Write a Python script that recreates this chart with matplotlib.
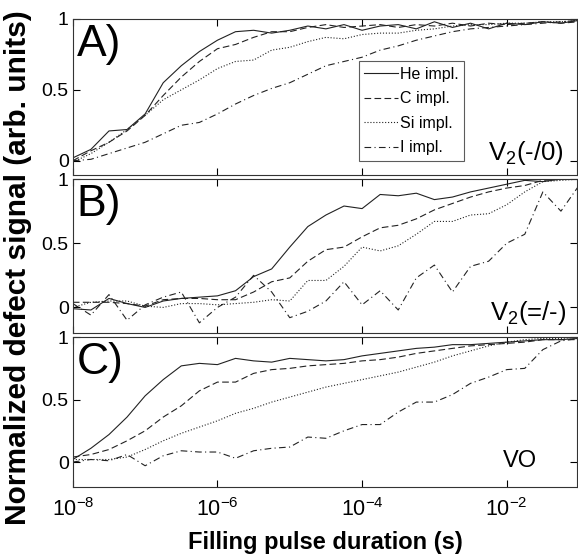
import matplotlib
matplotlib.use("Agg")
import matplotlib.pyplot as plt
from matplotlib import font_manager

# ------------------------------------------------------------------ #
#  data (x = log10 of pulse duration)         #
# ------------------------------------------------------------------ #
log_t = [-8.0, -7.75, -7.5, -7.25, -7.0, -6.75, -6.5, -6.25, -6.0, -5.75,
         -5.5, -5.25, -5.0, -4.75, -4.5, -4.25, -4.0, -3.75, -3.5, -3.25,
         -3.0, -2.75, -2.5, -2.25, -2.0, -1.75, -1.5, -1.25, -1.0]

# panel A: V2(-/0)
a_he = [0.02, 0.08, 0.21, 0.22, 0.33, 0.55, 0.67, 0.77, 0.85, 0.91,
        0.92, 0.90, 0.92, 0.95, 0.93, 0.96, 0.92, 0.95, 0.96, 0.93,
        0.98, 0.94, 0.97, 0.93, 0.97, 0.96, 0.98, 0.97, 0.99]
a_c = [0.0, 0.07, 0.13, 0.21, 0.32, 0.46, 0.59, 0.70, 0.79, 0.82,
       0.87, 0.91, 0.91, 0.94, 0.96, 0.94, 0.95, 0.96, 0.94, 0.96,
       0.95, 0.97, 0.95, 0.97, 0.96, 0.97, 0.98, 0.97, 0.98]
a_si = [-0.01, 0.05, 0.13, 0.22, 0.32, 0.43, 0.50, 0.57, 0.65, 0.70,
        0.71, 0.78, 0.80, 0.84, 0.87, 0.86, 0.89, 0.90, 0.90, 0.92,
        0.93, 0.95, 0.96, 0.96, 0.97, 0.97, 0.98, 0.98, 0.99]
a_i = [0.0, 0.01, 0.05, 0.09, 0.13, 0.19, 0.25, 0.27, 0.33, 0.40,
       0.46, 0.51, 0.55, 0.61, 0.67, 0.70, 0.73, 0.78, 0.81, 0.85,
       0.88, 0.91, 0.93, 0.94, 0.95, 0.96, 0.97, 0.98, 0.99]

# panel B: V2(=/-)
b_he = [-0.01, -0.02, 0.07, 0.03, 0.0, 0.05, 0.07, 0.08, 0.09, 0.13,
        0.24, 0.30, 0.47, 0.63, 0.72, 0.79, 0.77, 0.88, 0.87, 0.89,
        0.84, 0.86, 0.90, 0.93, 0.96, 0.99, 0.98, 1.0, 1.0]
b_c = [0.04, 0.04, 0.04, 0.03, 0.01, 0.06, 0.07, 0.07, 0.06, 0.06,
       0.12, 0.20, 0.23, 0.36, 0.45, 0.47, 0.55, 0.62, 0.64, 0.69,
       0.76, 0.81, 0.86, 0.90, 0.93, 0.95, 0.99, 1.0, 1.0]
b_si = [0.0, 0.04, 0.05, 0.05, 0.01, 0.0, 0.03, 0.03, 0.02, 0.03,
        0.04, 0.06, 0.05, 0.21, 0.21, 0.32, 0.47, 0.44, 0.48, 0.57,
        0.67, 0.67, 0.72, 0.73, 0.80, 0.90, 0.98, 0.99, 1.0]
b_i = [0.03, -0.06, 0.10, -0.10, 0.02, 0.08, 0.12, -0.12, 0.0, 0.08,
       0.25, 0.12, -0.08, -0.03, 0.05, 0.20, 0.02, 0.13, -0.02, 0.23,
       0.33, 0.12, 0.32, 0.36, 0.50, 0.57, 0.90, 0.75, 0.95]

# panel C: VO
c_he = [0.02, 0.11, 0.22, 0.36, 0.53, 0.66, 0.77, 0.79, 0.78, 0.83,
        0.81, 0.80, 0.83, 0.82, 0.81, 0.82, 0.85, 0.87, 0.89, 0.91,
        0.92, 0.94, 0.94, 0.95, 0.96, 0.97, 0.98, 0.98, 0.99]
c_c = [0.04, 0.06, 0.10, 0.17, 0.25, 0.36, 0.45, 0.57, 0.64, 0.64,
       0.71, 0.74, 0.75, 0.77, 0.78, 0.79, 0.81, 0.82, 0.84, 0.87,
       0.89, 0.91, 0.93, 0.94, 0.95, 0.96, 0.98, 0.98, 0.98]
c_si = [0.02, 0.02, 0.02, 0.04, 0.10, 0.17, 0.23, 0.28, 0.33, 0.39,
        0.43, 0.48, 0.52, 0.56, 0.60, 0.63, 0.66, 0.69, 0.72, 0.76,
        0.80, 0.85, 0.89, 0.93, 0.96, 0.98, 0.99, 0.99, 1.0]
c_i = [0.0, 0.02, 0.01, 0.06, -0.03, 0.05, 0.09, 0.08, 0.08, 0.03,
       0.09, 0.11, 0.12, 0.20, 0.19, 0.25, 0.30, 0.30, 0.40, 0.48,
       0.48, 0.54, 0.63, 0.68, 0.74, 0.75, 0.90, 0.97, 0.99]

series_labels = ["He impl.", "C impl.", "Si impl.", "I impl."]
panel_tags = ["A)", "B)", "C)"]
defect_names = [r"V$_2$(-/0)", r"V$_2$(=/-)", "VO"]
ylims = [(-0.1, 1.0), (-0.2, 1.0), (-0.2, 1.0)]

# ------------------------------------------------------------------ #
#  style                                                              #
# ------------------------------------------------------------------ #
names = {f.name for f in font_manager.fontManager.ttflist}
fam = "Liberation Sans Narrow" if "Liberation Sans Narrow" in names else "Liberation Sans"
plt.rcParams["font.family"] = [fam, "DejaVu Sans"]
plt.rcParams["mathtext.fontset"] = "custom"
plt.rcParams["mathtext.rm"] = fam
plt.rcParams["mathtext.it"] = fam
plt.rcParams["mathtext.bf"] = fam + ":bold"

styles = ["-", (0, (6, 3)), ":", (0, (6, 3, 1, 3))]
t = [10 ** v for v in log_t]

fig = plt.figure(figsize=(5.78, 5.57), dpi=100)
boxes = [(0.126, 0.686, 0.872, 0.280),
         (0.126, 0.402, 0.872, 0.2765),
         (0.126, 0.1257, 0.872, 0.269)]
panels = [(a_he, a_c, a_si, a_i), (b_he, b_c, b_si, b_i), (c_he, c_c, c_si, c_i)]
# (x right edge, y bottom, size) of the defect labels, axes fraction
name_pos = [(0.974, 0.05, 18.5), (0.98, 0.04, 18.5), (0.92, 0.10, 17)]

axes = []
for k, box in enumerate(boxes):
    ax = fig.add_axes(box)
    for vals, ls, lab in zip(panels[k], styles, series_labels):
        ax.plot(t, vals, color="#222222", lw=0.8, linestyle=ls, label=lab)
    ax.set_xscale("log")
    ax.set_xlim(1e-8, 10 ** -1.03)
    ax.set_ylim(*ylims[k])
    ax.set_xticks([1e-8, 1e-6, 1e-4, 1e-2])
    ax.minorticks_off()
    ax.set_yticks([0, 0.5, 1])
    ax.set_yticklabels(["0", "0.5", "1"])
    ax.tick_params(direction="in", top=True, right=True, length=5,
                   width=0.8, labelsize=14, pad=3)
    ax.tick_params(axis="x", labelsize=15.5, pad=8)
    if k < 2:
        ax.tick_params(labelbottom=False)
    for s in ax.spines.values():
        s.set_linewidth(0.8)
        s.set_color("#333333")
    ax.text(0.008, 0.97, panel_tags[k], transform=ax.transAxes,
            fontsize=32, va="top", ha="left")
    nx, ny, ns = name_pos[k]
    ax.text(nx, ny, defect_names[k], transform=ax.transAxes,
            fontsize=ns, va="bottom", ha="right")
    axes.append(ax)

axes[0].legend(loc="upper left", bbox_to_anchor=(0.567, 0.73), fontsize=11.5,
               frameon=True, fancybox=False, edgecolor="#333333",
               handlelength=2.1, handletextpad=0.15, borderpad=0.35,
               labelspacing=0.6, borderaxespad=0)
axes[0].get_legend().get_frame().set_linewidth(0.8)

fig.text(18 / 578, 0.519, "Normalized defect signal (arb. units)",
         rotation=90, ha="center", va="center", fontsize=21.5, fontweight="bold")
fig.text(325 / 578, 0.014, "Filling pulse duration (s)",
         ha="center", va="baseline", fontsize=17, fontweight="bold")

fig.savefig("out.png", dpi=100)
